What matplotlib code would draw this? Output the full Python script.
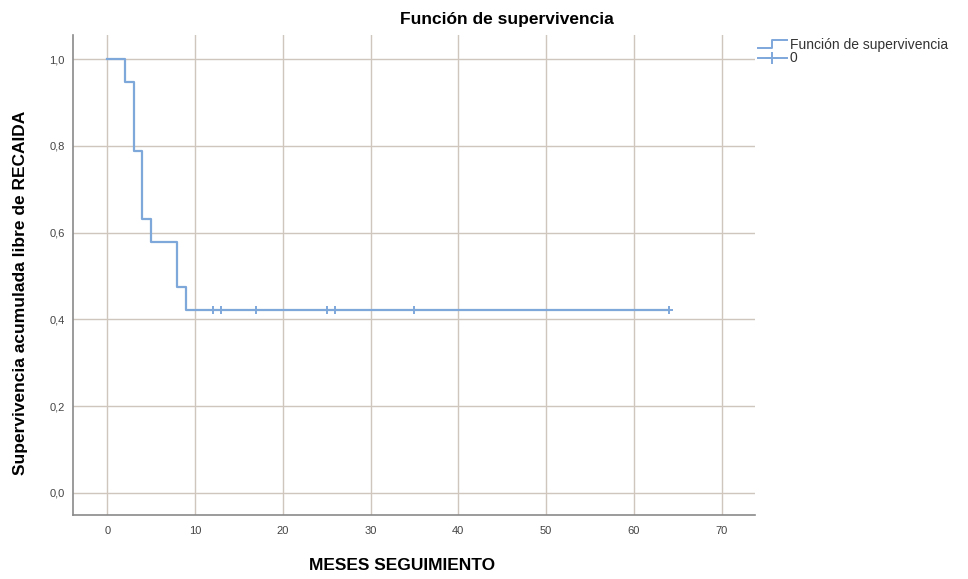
import matplotlib
matplotlib.use('Agg')
import matplotlib.pyplot as plt
from matplotlib.lines import Line2D
import numpy as np

plt.rcParams['font.family'] = ['Liberation Sans', 'DejaVu Sans']

# Kaplan-Meier estimate
event_times = [0, 2, 3, 4, 5, 8, 9, 64]
survival = [1.0, 0.947, 0.789, 0.632, 0.579, 0.474, 0.421, 0.421]
censored_times = [12, 13, 17, 25, 26, 35, 64]
censored_surv = [0.421] * len(censored_times)

x_ticks = [0, 10, 20, 30, 40, 50, 60, 70]
y_ticks = [0.0, 0.2, 0.4, 0.6, 0.8, 1.0]
y_labels = ['0,0', '0,2', '0,4', '0,6', '0,8', '1,0']

line_col = '#7ea7da'
grid_col = '#cfc6bd'

fig = plt.figure(figsize=(9.68, 5.79), dpi=100)
ax = fig.add_axes([0.0754, 0.1105, 0.7046, 0.8291])

ax.step(event_times, survival, where='post', color=line_col, lw=1.6, zorder=3)
ax.plot(censored_times, censored_surv, linestyle='none', marker='+',
        color=line_col, markersize=5.5, mew=1.4, zorder=4)

ax.set_xlim(-3.9, 73.8)
ax.set_ylim(-0.0515, 1.056)
ax.set_xticks(x_ticks)
ax.set_yticks(y_ticks)
ax.set_yticklabels(y_labels)
ax.grid(True, color=grid_col, lw=1.0, zorder=0)
ax.tick_params(length=0, labelsize=8, colors='#444444')
ax.tick_params(axis='x', pad=8)
ax.tick_params(axis='y', pad=6)

for s in ['top', 'right']:
    ax.spines[s].set_visible(False)
for s in ['left', 'bottom']:
    ax.spines[s].set_color('#8a8a8a')
    ax.spines[s].set_linewidth(1.2)

fig.text(0.524, 0.967, 'Función de supervivencia', fontsize=12.5,
         fontweight='bold', ha='center', va='center')
fig.text(0.415, 0.024, 'MESES SEGUIMIENTO', fontsize=12.5,
         fontweight='bold', ha='center', va='center')
fig.text(0.021, 0.494, 'Supervivencia acumulada libre de RECAIDA', fontsize=12.5,
         fontweight='bold', ha='center', va='center', rotation=90)

# legend outside on the right
fig.add_artist(Line2D([0.783, 0.798, 0.798, 0.813], [0.917, 0.917, 0.931, 0.931],
                      transform=fig.transFigure, color=line_col, lw=1.4))
fig.text(0.816, 0.923, 'Función de supervivencia', fontsize=10,
         va='center', color='#333333')
fig.add_artist(Line2D([0.783, 0.813], [0.899, 0.899],
                      transform=fig.transFigure, color=line_col, lw=1.4))
fig.add_artist(Line2D([0.798], [0.899], transform=fig.transFigure,
                      color=line_col, marker='+', markersize=9, mew=1.4))
fig.text(0.816, 0.899, '0', fontsize=10, va='center', color='#333333')

plt.savefig('out.png', dpi=100)
